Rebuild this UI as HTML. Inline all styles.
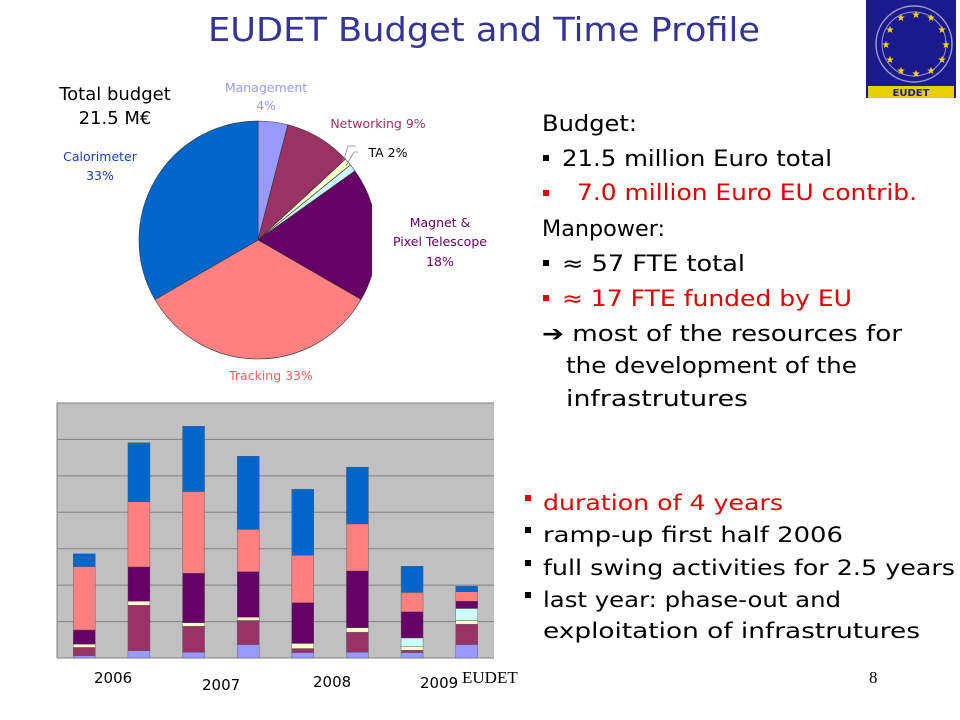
<!DOCTYPE html>
<html><head><meta charset="utf-8"><style>
html,body{margin:0;padding:0;background:#fff;}
svg{display:block;font-family:"DejaVu Sans","Liberation Sans",sans-serif;}
</style></head><body>
<svg id="s" width="960" height="720" viewBox="0 0 960 720">
<text x="208" y="41" font-size="33" fill="#333399" textLength="552" lengthAdjust="spacingAndGlyphs">EUDET Budget and Time Profile</text>
<g>
<rect x="866" y="0" width="90" height="98" fill="#1a1a8c"/>
<circle cx="914" cy="44" r="38" fill="none" stroke="#9999cc" stroke-width="1.5"/>
<circle cx="914" cy="44" r="32" fill="none" stroke="#9999cc" stroke-width="1"/>
<g fill="#ffd700" font-size="10" text-anchor="middle">
<text x="901" y="21">★</text><text x="916" y="18">★</text><text x="931" y="21">★</text>
<text x="890" y="33">★</text><text x="942" y="33">★</text><text x="886" y="48">★</text>
<text x="946" y="48">★</text><text x="890" y="63">★</text><text x="942" y="63">★</text>
<text x="901" y="74">★</text><text x="916" y="77">★</text><text x="931" y="74">★</text></g>
<rect x="868" y="86" width="86" height="12" fill="#e8d000"/>
<text x="911" y="96" font-size="10" font-weight="bold" fill="#1a1a8c" text-anchor="middle">EUDET</text>
</g>
<text x="115" y="100" font-size="18" text-anchor="middle">Total budget</text>
<text x="115" y="124" font-size="18" text-anchor="middle">21.5 M€</text>
<g id="pie"></g>
<g font-size="12.5" text-anchor="middle">
<text x="266" y="92" fill="#9999ff">Management</text>
<text x="266" y="110" fill="#9999ff">4%</text>
<text x="378" y="128" fill="#993366">Networking 9%</text>
<text x="388" y="157" fill="#000">TA 2%</text>
<text x="440" y="227" fill="#660066">Magnet &amp;</text>
<text x="440" y="246" fill="#660066">Pixel Telescope</text>
<text x="440" y="266" fill="#660066">18%</text>
<text x="271" y="380" fill="#ff6060">Tracking 33%</text>
<text x="100" y="161" fill="#1a3ccc">Calorimeter</text>
<text x="100" y="180" fill="#1a3ccc">33%</text>
</g>
<path d="M343 162 L348 146 L356 146 M346 166 L354 152 L358 152" fill="none" stroke="#888" stroke-width="0.8"/>
<g id="bars"></g>
<g font-size="15">
<text x="94" y="683">2006</text>
<text x="202" y="690">2007</text>
<text x="313" y="687">2008</text>
<text x="420" y="688">2009</text>
</g>
<g font-size="22">
<text x="542" y="131" textLength="95" lengthAdjust="spacingAndGlyphs">Budget:</text>
<rect x="543" y="155" width="6" height="6"/>
<text x="562" y="166" textLength="270" lengthAdjust="spacingAndGlyphs">21.5 million Euro total</text>
<rect x="543" y="190" width="6" height="6" fill="#e00000"/>
<text x="577" y="200" fill="#e00000" textLength="340" lengthAdjust="spacingAndGlyphs">7.0 million Euro EU contrib.</text>
<text x="542" y="236" textLength="123" lengthAdjust="spacingAndGlyphs">Manpower:</text>
<rect x="543" y="260" width="6" height="6"/>
<text x="562" y="271" textLength="183" lengthAdjust="spacingAndGlyphs">≈ 57 FTE total</text>
<rect x="543" y="295" width="6" height="6" fill="#e00000"/>
<text x="562" y="306" fill="#e00000" textLength="290" lengthAdjust="spacingAndGlyphs">≈ 17 FTE funded by EU</text>
<text x="542" y="341" textLength="360" lengthAdjust="spacingAndGlyphs">➔ most of the resources for</text>
<text x="566" y="373" textLength="291" lengthAdjust="spacingAndGlyphs">the development of the</text>
<text x="566" y="406" textLength="182" lengthAdjust="spacingAndGlyphs">infrastrutures</text>
</g>
<g font-size="21">
<rect x="525" y="495" width="6" height="6" fill="#e00000"/>
<text x="543" y="510" fill="#e00000" textLength="240" lengthAdjust="spacingAndGlyphs">duration of 4 years</text>
<rect x="525" y="527" width="6" height="6"/>
<text x="543" y="542" textLength="300" lengthAdjust="spacingAndGlyphs">ramp-up first half 2006</text>
<rect x="525" y="560" width="6" height="6"/>
<text x="543" y="575" textLength="412" lengthAdjust="spacingAndGlyphs">full swing activities for 2.5 years</text>
<rect x="525" y="592" width="6" height="6"/>
<text x="543" y="607" textLength="298" lengthAdjust="spacingAndGlyphs">last year: phase-out and</text>
<text x="543" y="638" textLength="377" lengthAdjust="spacingAndGlyphs">exploitation of infrastrutures</text>
</g>
<text x="462" y="683" font-family="Liberation Serif,serif" font-size="17">EUDET</text>
<text x="869" y="683" font-family="Liberation Serif,serif" font-size="17">8</text>
</svg>
<script>
const NS="http://www.w3.org/2000/svg";
const pieLabels=["Management","Networking","TA-a","TA-b","Magnet","Tracking","Calorimeter"];
const pieValues=[4,9,1,1,18,33,33];
const pieColors=["#9999ff","#993366","#ffffcc","#ccffff","#660066","#ff8080","#0066cc"];
const barCats=["2006a","2006b","2007a","2007b","2008a","2008b","2009a","2009b"];
const sLav=[0.06,0.20,0.16,0.37,0.15,0.16,0.15,0.37];
const sMaroon=[0.23,1.25,0.71,0.66,0.11,0.55,0.06,0.56];
const sCream=[0.09,0.11,0.10,0.09,0.14,0.12,0.11,0.10];
const sCyan=[0,0,0,0,0,0,0.23,0.33];
const sPurple=[0.39,0.94,1.36,1.25,1.12,1.56,0.72,0.20];
const sPink=[1.74,1.79,2.24,1.16,1.30,1.29,0.53,0.26];
const sBlue=[0.35,1.62,1.79,2.01,1.81,1.56,0.72,0.15];
const yMax=7;
const svg=document.getElementById('s');
function mk(t,a,p){const e=document.createElementNS(NS,t);for(const k in a)e.setAttribute(k,a[k]);p.appendChild(e);return e;}
// pie
const pie=document.getElementById('pie');
const cx=258,cy=240,r=119;
const defs=mk('defs',{},svg);
const cp=mk('clipPath',{id:'pc'},defs);mk('rect',{x:0,y:0,width:372,height:720},cp);
pie.setAttribute('clip-path','url(#pc)');
const tot=pieValues.reduce((a,b)=>a+b,0);
let acc=0;
pieValues.forEach((v,i)=>{
 const a0=acc/tot*2*Math.PI; acc+=v; const a1=acc/tot*2*Math.PI;
 const x0=cx+r*Math.sin(a0),y0=cy-r*Math.cos(a0),x1=cx+r*Math.sin(a1),y1=cy-r*Math.cos(a1);
 const p=mk('path',{d:`M${cx} ${cy}L${x0} ${y0}A${r} ${r} 0 ${a1-a0>Math.PI?1:0} 1 ${x1} ${y1}Z`,fill:pieColors[i],stroke:'#333','stroke-width':0.6},pie);
 
 
});
// bars
const g=document.getElementById('bars');
const X0=57,X1=494,Y0=658,Y1=403;
const yS=v=>Y0-v/yMax*(Y0-Y1);
const bg=mk('rect',{x:X0,y:Y1,width:X1-X0,height:Y0-Y1,fill:'#c0c0c0'},g);


for(let t=1;t<=yMax;t++){const l=mk('line',{x1:X0,x2:X1,y1:yS(t),y2:yS(t),stroke:'#808080','stroke-width':1},g);
 
 }
mk('line',{x1:X0,x2:X0,y1:Y1,y2:Y0,stroke:'#808080'},g);
mk('line',{x1:X0,x2:X1,y1:Y0,y2:Y0,stroke:'#808080'},g);
const series=[sLav,sMaroon,sCream,sCyan,sPurple,sPink,sBlue];
const sNames=["management","networking","ta","ta2","magnet","tracking","calorimeter"];
const step=(X1-X0)/barCats.length,bw=22;
barCats.forEach((c,i)=>{
 const xc=X0+step*(i+0.5);let base=0;
 series.forEach((s,k)=>{
  const v=s[i]; if(v<=0)return;
  const rc=mk('rect',{x:xc-bw/2,y:yS(base+v),width:bw,height:yS(base)-yS(base+v),fill:pieColors[k],stroke:'#555','stroke-width':0.4},g);
  
  
  base+=v;
 });
});
</script>
</body></html>
